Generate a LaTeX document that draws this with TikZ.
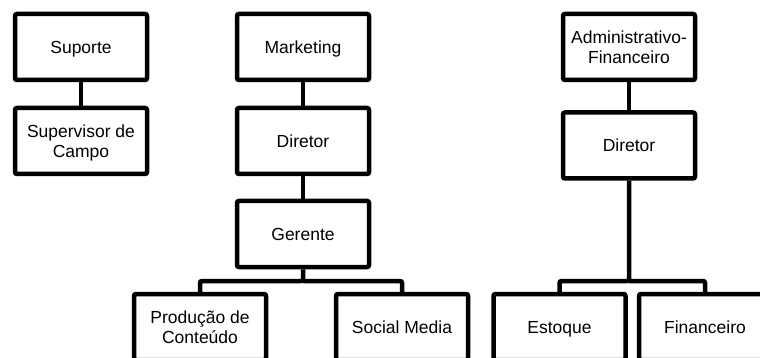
\documentclass[tikz,border=0pt]{standalone}
\usepackage{fontspec}
\setmainfont{Liberation Sans}

\begin{document}
\begin{tikzpicture}[x=1pt,y=-1pt,
		box/.style={draw,line width=4.5pt,rounded corners=2pt,minimum width=132pt,minimum height=66pt,inner sep=0pt,text depth=0pt,align=center,font=\fontsize{17.5}{20}\selectfont},
		link/.style={line width=4.5pt,rounded corners=2pt}]
		\clip (0,0) rectangle (760,358);
		% suporte
		\node[box] (suporte) at (81,47) {Suporte};
		\node[box] (supervisor) at (81,141) {Supervisor de\\Campo};
		\draw[link] (suporte) -- (supervisor);
		% marketing
		\node[box] (marketing) at (303,47) {Marketing};
		\node[box] (diretorM) at (303,141) {Diretor};
		\node[box] (gerente) at (303,234) {Gerente};
		\node[box] (producao) at (200,327) {Produção de\\Conteúdo};
		\node[box] (social) at (402,327) {Social Media};
		\draw[link] (marketing) -- (diretorM);
		\draw[link] (diretorM) -- (gerente);
		\draw[link] (gerente.south) -- (gerente.south |- 0,281) -| (producao.north);
		\draw[link] (gerente.south |- 0,281) -| (social.north);
		% administrativo
		\node[box] (admin) at (629,47) {Administrativo-\\Financeiro};
		\node[box] (diretorA) at (629,145.5) {Diretor};
		\node[box] (estoque) at (559.5,327) {Estoque};
		\node[box] (financeiro) at (705,327) {Financeiro};
		\draw[link] (admin) -- (diretorA);
		\draw[link] (diretorA.south) -- (diretorA.south |- 0,281) -| (estoque.north);
		\draw[link] (diretorA.south |- 0,281) -| (financeiro.north);
\end{tikzpicture}
\end{document}
